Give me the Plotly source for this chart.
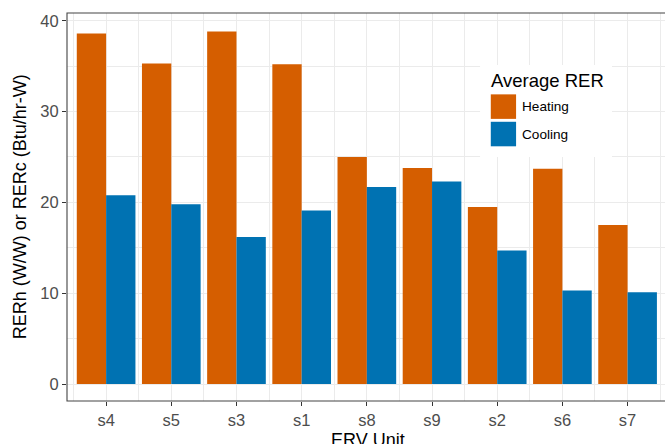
import plotly.graph_objects as go

units = ["s4", "s5", "s3", "s1", "s8", "s9", "s2", "s6", "s7"]
heating = [38.6, 35.3, 38.8, 35.2, 25.0, 23.8, 19.5, 23.7, 17.5]
cooling = [20.8, 19.8, 16.2, 19.1, 21.7, 22.3, 14.7, 10.3, 10.1]
series_names = ["Heating", "Cooling"]
series_colors = ["#D55E00", "#0072B2"]
y_ticks = [0, 10, 20, 30, 40]

xpos = list(range(len(units)))

fig = go.Figure()
fig.add_trace(go.Bar(x=xpos, y=heating, name=series_names[0],
                     marker=dict(color=series_colors[0], line=dict(width=0)),
                     showlegend=False))
fig.add_trace(go.Bar(x=xpos, y=cooling, name=series_names[1],
                     marker=dict(color=series_colors[1], line=dict(width=0)),
                     showlegend=False))

W, H = 665, 444
ml, mr, mt, mb = 66.7, 0, 13, 43.3
pw = W - ml - mr
ph = H - mt - mb

def px2paper_x(px):
    return (px - ml) / pw

def px2paper_y(py):
    return (H - mb - py) / ph

tickfont = dict(family="Liberation Sans, Arial, sans-serif", size=16.5, color="#4D4D4D")
gridc = "#EBEBEB"

fig.update_layout(
    width=W, height=H,
    margin=dict(l=ml, r=mr, t=mt, b=mb, pad=0),
    paper_bgcolor="white", plot_bgcolor="white",
    barmode="group", bargap=0.1, bargroupgap=0,
    font=dict(family="Liberation Sans, Arial, sans-serif", color="black"),
    xaxis=dict(
        range=[-0.6, 8.574], tickvals=xpos, ticktext=units,
        showgrid=True, gridcolor=gridc, gridwidth=1,
        minor=dict(tickvals=[i + 0.5 for i in range(-1, len(units))],
                   showgrid=True, gridcolor=gridc, gridwidth=0.6, ticks=""),
        ticks="outside", ticklen=4, tickwidth=1, tickcolor="#333333",
        tickfont=tickfont, zeroline=False, showline=False,
    ),
    yaxis=dict(
        range=[-1.86, 40.85], tickvals=y_ticks,
        showgrid=True, gridcolor=gridc, gridwidth=1,
        minor=dict(tickvals=[5, 15, 25, 35], showgrid=True,
                   gridcolor=gridc, gridwidth=0.6, ticks=""),
        ticks="outside", ticklen=4, tickwidth=1, tickcolor="#333333",
        tickfont=tickfont, zeroline=False, showline=False,
    ),
)

# panel border (extends beyond right edge of the page)
fig.add_shape(type="rect", xref="paper", yref="paper",
              x0=0, x1=1.02, y0=0, y1=1,
              line=dict(color="#444444", width=1.1), layer="above")

# axis titles
fig.add_annotation(text="RERh (W/W) or RERc (Btu/hr-W)", xref="paper", yref="paper",
                   x=px2paper_x(20), y=0.5, textangle=-90, showarrow=False,
                   xanchor="center", yanchor="middle",
                   font=dict(size=18, color="black"))
fig.add_annotation(text="ERV Unit", xref="paper", yref="paper",
                   x=px2paper_x(367.5), y=px2paper_y(428), showarrow=False,
                   xanchor="center", yanchor="top",
                   font=dict(size=18, color="black"))

# legend (drawn manually to match ggplot key sizes)
fig.add_shape(type="rect", xref="paper", yref="paper",
              x0=px2paper_x(480), x1=px2paper_x(612),
              y0=px2paper_y(157), y1=px2paper_y(65),
              fillcolor="white", line=dict(width=0), layer="above")
fig.add_annotation(text="Average RER", xref="paper", yref="paper",
                   x=px2paper_x(489), y=px2paper_y(80), showarrow=False,
                   xanchor="left", yanchor="middle",
                   font=dict(size=18.5, color="black"))
key_tops = [94.3, 121.7]
for name, col, top in zip(series_names, series_colors, key_tops):
    fig.add_shape(type="rect", xref="paper", yref="paper",
                  x0=px2paper_x(490.7), x1=px2paper_x(516),
                  y0=px2paper_y(top + 24.5), y1=px2paper_y(top),
                  fillcolor=col, line=dict(width=0), layer="above")
    fig.add_annotation(text=name, xref="paper", yref="paper",
                       x=px2paper_x(520), y=px2paper_y(top + 12.5), showarrow=False,
                       xanchor="left", yanchor="middle",
                       font=dict(size=13.6, color="black"))

fig.write_html("out.html")
